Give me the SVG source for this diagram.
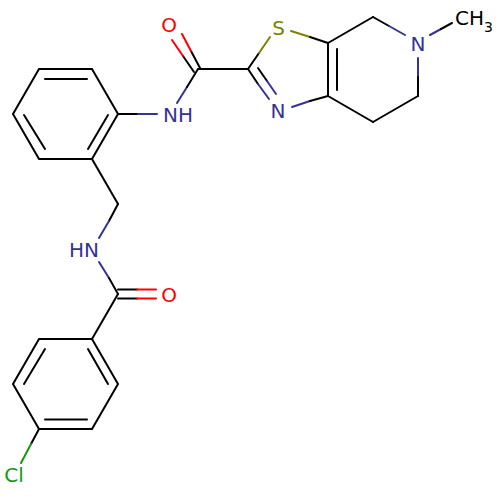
<svg xmlns="http://www.w3.org/2000/svg" width="500" height="500" viewBox="0 0 500 500">
<style>
.b{stroke:#000;stroke-width:2;fill:none;stroke-linecap:round}
.n{stroke:#333399;stroke-width:2;fill:none;stroke-linecap:round}
.o{stroke:#ff0000;stroke-width:2;fill:none;stroke-linecap:round}
.s{stroke:#808000;stroke-width:2;fill:none;stroke-linecap:round}
.c{stroke:#129a12;stroke-width:2;fill:none;stroke-linecap:round}
text{font-family:"DejaVu Sans",sans-serif;font-size:20px}
.tn{fill:#333399}.to{fill:#ff0000}.ts{fill:#808000}.tc{fill:#129a12}.tk{fill:#000}
</style>
<rect width="500" height="500" fill="#fff"/>
<g id="bonds">
<!-- benzene A -->
<path class="b" d="M39,69 L92,69 L118,114 L92,159 L39,159 L13,114 Z"/>
<line class="b" x1="45" y1="79" x2="87" y2="79"/>
<line class="b" x1="108" y1="115" x2="88" y2="149"/>
<line class="b" x1="24" y1="115" x2="45" y2="149"/>
<!-- NH amide -->
<line class="b" x1="118" y1="114" x2="138" y2="114"/>
<line class="n" x1="138" y1="114" x2="157" y2="114"/>
<line class="n" x1="177" y1="103" x2="187" y2="87"/>
<line class="b" x1="187" y1="87" x2="198" y2="69"/>
<!-- C=O top -->
<line class="b" x1="200" y1="68" x2="191" y2="51"/>
<line class="o" x1="191" y1="51" x2="182" y2="34"/>
<line class="b" x1="194" y1="72" x2="183" y2="56"/>
<line class="o" x1="183" y1="56" x2="172" y2="40"/>
<line class="b" x1="198" y1="69" x2="248" y2="69"/>
<!-- thiazole -->
<line class="b" x1="248" y1="69" x2="259" y2="53"/>
<line class="s" x1="259" y1="53" x2="270" y2="37"/>
<line class="s" x1="291" y1="31" x2="310" y2="37"/>
<line class="b" x1="310" y1="37" x2="328" y2="43"/>
<line class="b" x1="248" y1="69" x2="258" y2="84"/>
<line class="n" x1="258" y1="84" x2="269" y2="99"/>
<line class="b" x1="258" y1="68" x2="267" y2="81"/>
<line class="n" x1="267" y1="81" x2="276" y2="94"/>
<line class="n" x1="292" y1="107" x2="310" y2="101"/>
<line class="b" x1="310" y1="101" x2="328" y2="96"/>
<line class="b" x1="328" y1="96" x2="328" y2="43"/>
<line class="b" x1="337" y1="90" x2="337" y2="49"/>
<!-- piperidine -->
<line class="b" x1="328" y1="43" x2="373" y2="17"/>
<line class="b" x1="373" y1="17" x2="389" y2="26"/>
<line class="n" x1="389" y1="26" x2="405" y2="35"/>
<line class="n" x1="418" y1="58" x2="418" y2="77"/>
<line class="b" x1="418" y1="77" x2="418" y2="96"/>
<line class="b" x1="418" y1="96" x2="373" y2="122"/>
<line class="b" x1="373" y1="122" x2="328" y2="96"/>
<line class="n" x1="430" y1="35" x2="441" y2="29"/>
<line class="b" x1="441" y1="29" x2="452" y2="23"/>
<!-- CH2-NH -->
<line class="b" x1="92" y1="159" x2="118" y2="204"/>
<line class="b" x1="118" y1="204" x2="109" y2="221"/>
<line class="n" x1="109" y1="221" x2="99" y2="238"/>
<line class="n" x1="99" y1="262" x2="109" y2="278"/>
<line class="b" x1="109" y1="278" x2="118" y2="294"/>
<!-- C=O lower -->
<line class="b" x1="118" y1="289.5" x2="137" y2="289.5"/>
<line class="o" x1="137" y1="289.5" x2="156" y2="289.5"/>
<line class="b" x1="118" y1="298.5" x2="137" y2="298.5"/>
<line class="o" x1="137" y1="298.5" x2="156" y2="298.5"/>
<line class="b" x1="118" y1="294" x2="92" y2="339"/>
<!-- benzene B -->
<path class="b" d="M92,339 L118,384 L92,429 L39,429 L13,384 L39,339 Z"/>
<line class="b" x1="88" y1="349" x2="108" y2="384"/>
<line class="b" x1="45" y1="419.5" x2="87" y2="419.5"/>
<line class="b" x1="24" y1="384" x2="45" y2="349"/>
<!-- Cl -->
<line class="b" x1="39" y1="429" x2="31" y2="444"/>
<line class="c" x1="31" y1="444" x2="21" y2="463"/>
</g>
<g id="O1"><text class="to" x="169" y="32" text-anchor="middle">O</text></g>
<g id="NH1"><text class="tn" x="163" y="122">NH</text></g>
<g id="S1"><text class="ts" x="278.5" y="35" text-anchor="middle">S</text></g>
<g id="N2"><text class="tn" x="278" y="118" text-anchor="middle">N</text></g>
<g id="N3"><text class="tn" x="418" y="51" text-anchor="middle">N</text></g>
<g id="CH3"><text class="tk" x="455" y="25">CH<tspan font-size="14" dy="7">3</tspan></text></g>
<g id="NH2"><text class="tn" x="69" y="257">HN</text></g>
<g id="O2"><text class="to" x="169" y="302" text-anchor="middle">O</text></g>
<g id="Cl"><text class="tc" x="14" y="482" text-anchor="middle">Cl</text></g>
</svg>
